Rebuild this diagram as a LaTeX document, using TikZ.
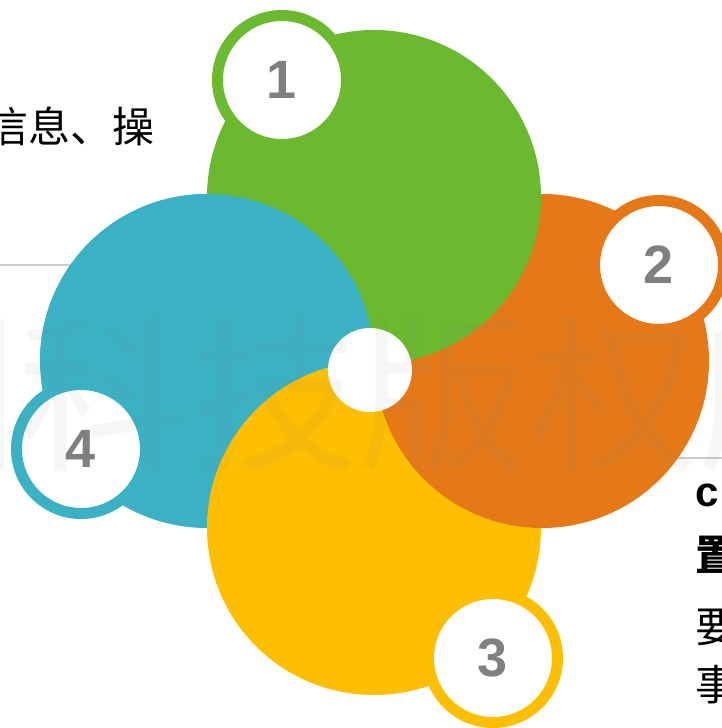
\documentclass[tikz,border=0pt]{standalone}
\usepackage{fontspec}
\setmainfont{Liberation Sans}
\newfontfamily\cjk{Noto Sans CJK SC}
\definecolor{cgreen}{HTML}{6AB92F}
\definecolor{corange}{HTML}{E57918}
\definecolor{cyellow}{HTML}{FEBF00}
\definecolor{cteal}{HTML}{3BB2C3}
\definecolor{digitgray}{HTML}{808080}
\definecolor{linegray}{HTML}{CCCCCC}
\begin{document}
\begin{tikzpicture}[x=1pt,y=-1pt,
 bigc/.style={circle,inner sep=0pt,minimum size=334pt},
 badge/.style={circle,fill=white,draw=#1,line width=11pt,inner sep=0pt,minimum size=129pt,text=digitgray,font=\fontsize{54}{54}\selectfont\bfseries},
 guide/.style={draw=linegray,line width=1.2pt},
 body/.style={inner sep=0pt,anchor=base west,font=\cjk\fontsize{42}{42}\selectfont},
 wmark/.style={inner sep=0pt,anchor=base west,text=gray,text opacity=0.07,font=\cjk\fontsize{170}{170}\selectfont}
]
\useasboundingbox (0,0) rectangle (722,728);
\clip (0,0) rectangle (722,728);
\fill[white] (0,0) rectangle (722,728);
% guide lines
\coordinate (l1a) at (0,265); \coordinate (l1b) at (200,265);
\coordinate (l2a) at (600,458); \coordinate (l2b) at (722,458);
\draw[guide] (l1a) -- (l1b);
\draw[guide] (l2a) -- (l2b);
% big circles (pinwheel)
\node[bigc,fill=cteal] (teal) at (207,361) {};
\node[bigc,fill=cyellow] (yellow) at (374,528) {};
\node[bigc,fill=corange] (orange) at (542,361) {};
\node[bigc,fill=cgreen] (green) at (374,197) {};
\begin{scope}
\clip (0,0) rectangle (722,361);
\fill[cteal] (teal.center) circle[radius=167pt];
\end{scope}
% hub
\node[circle,fill=white,minimum size=84pt,inner sep=0pt] (hub) at (370,370) {};
% badges
\node[badge=cgreen] (b1) at (282,80) {1};
\node[badge=corange] (b2) at (659,265) {2};
\node[badge=cyellow] (b3) at (493,658) {3};
\node[badge=cteal] (b4) at (81,449) {4};
% watermark
\node[wmark] (wm) at (-152,458) {圳科技版权所};
% texts
\node[body] (t1) at (-14,142) {信息、操};
\node[body,font=\fontsize{42}{42}\selectfont\bfseries] (t2) at (695,506) {c};
\node[body,font=\cjk\fontsize{42}{42}\selectfont\bfseries] (t3) at (695,570) {置};
\node[body] (t4) at (695,642) {要};
\node[body] (t5) at (695,700) {事};
\end{tikzpicture}
\end{document}
